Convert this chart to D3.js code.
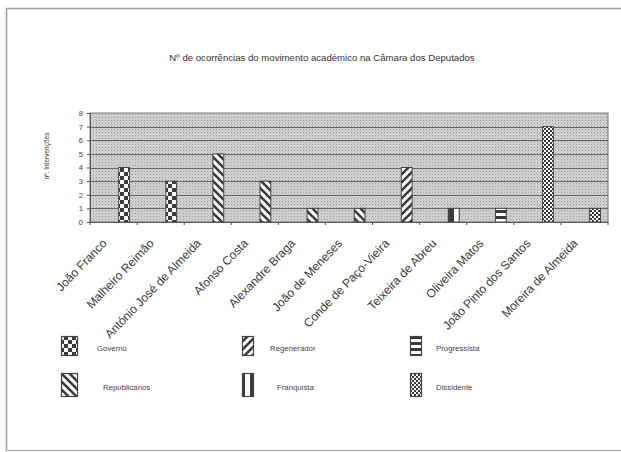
<!DOCTYPE html>
<html><head><meta charset="utf-8">
<script src="https://cdn.jsdelivr.net/npm/d3@7"></script>
<style>
html,body{margin:0;padding:0;background:#fff;}
svg{display:block;font-family:"Liberation Sans",Arial,sans-serif;}
</style></head>
<body>
<svg id="c" width="621" height="452"></svg>
<script>
const categories = ["João Franco","Malheiro Reimão","António José de Almeida","Afonso Costa","Alexandre Braga","João de Meneses","Conde de Paço-Vieira","Teixeira de Abreu","Oliveira Matos","João Pinto dos Santos","Moreira de Almeida"];
const values = [4,3,5,3,1,1,4,1,1,7,1];
const barParty = ["Governo","Governo","Republicanos","Republicanos","Republicanos","Republicanos","Regenerador","Franquista","Progressista","Dissidente","Dissidente"];
const legendRow1 = ["Governo","Regenerador","Progressista"];
const legendRow2 = ["Republicanos","Franquista","Dissidente"];
const yTicks = [0,1,2,3,4,5,6,7,8];
const title = "Nº de ocorrências do movimento académico na Câmara dos Deputados";
const yTitle = "nº. Intervenções";

const svg = d3.select("#c");
const defs = svg.append("defs");
const ink = "#3a3a3a";

// background stipple
const bg = defs.append("pattern").attr("id","p-bg").attr("width",3).attr("height",3).attr("patternUnits","userSpaceOnUse");
bg.append("rect").attr("width",3).attr("height",3).attr("fill","#d2d2d2");
bg.append("rect").attr("width",1).attr("height",1).attr("fill","#9c9c9c");
bg.append("rect").attr("x",1.5).attr("y",1.5).attr("width",1).attr("height",1).attr("fill","#b4b4b4");

function pat(id,w,h,draw){
  const p = defs.append("pattern").attr("id",id).attr("width",w).attr("height",h).attr("patternUnits","userSpaceOnUse");
  p.append("rect").attr("width",w).attr("height",h).attr("fill","#fff");
  draw(p);
}
pat("p-Governo",8,8,p=>{
  p.append("rect").attr("width",4).attr("height",4).attr("fill",ink);
  p.append("rect").attr("x",4).attr("y",4).attr("width",4).attr("height",4).attr("fill",ink);
});
pat("p-Dissidente",4,4,p=>{
  p.append("rect").attr("width",2).attr("height",2).attr("fill",ink);
  p.append("rect").attr("x",2).attr("y",2).attr("width",2).attr("height",2).attr("fill",ink);
});
pat("p-Republicanos",8,8,p=>{
  p.append("path").attr("d","M-2,-2 L10,10 M-2,6 L2,10 M6,-2 L10,2").attr("stroke",ink).attr("stroke-width",2.6);
});
pat("p-Regenerador",8,8,p=>{
  p.append("path").attr("d","M-2,10 L10,-2 M-2,2 L2,-2 M6,10 L10,6").attr("stroke",ink).attr("stroke-width",2.6);
});
pat("p-Franquista",11,4,p=>{
  p.append("rect").attr("x",0).attr("width",3).attr("height",4).attr("fill",ink);
  p.append("rect").attr("x",8).attr("width",3).attr("height",4).attr("fill",ink);
});
pat("p-Progressista",4,6,p=>{
  p.append("rect").attr("y",0).attr("width",4).attr("height",3).attr("fill",ink);
});

// frame
svg.append("path").attr("d","M6.5,450.5 L6.5,8.5 L621,8.5").attr("fill","none").attr("stroke","#9a9a9a").attr("stroke-width",1.5);
svg.append("path").attr("d","M6.5,450.5 L621,450.5").attr("fill","none").attr("stroke","#9a9a9a").attr("stroke-width",1.2);

const m = {left:90, right:608, top:113, bottom:222};
const x = d3.scaleBand().domain(categories).range([m.left,m.right]).padding(0);
const y = d3.scaleLinear().domain([0,8]).range([m.bottom,m.top]);

svg.append("rect").attr("x",m.left).attr("y",m.top).attr("width",m.right-m.left).attr("height",m.bottom-m.top)
  .attr("fill","url(#p-bg)").attr("stroke","#777").attr("stroke-width",1);

// gridlines
svg.append("g").selectAll("line").data(yTicks.slice(1,-1)).join("line")
  .attr("x1",m.left).attr("x2",m.right).attr("y1",d=>Math.round(y(d))+0.5).attr("y2",d=>Math.round(y(d))+0.5)
  .attr("stroke","#666").attr("stroke-width",1);

// bars
svg.append("g").selectAll("rect").data(categories).join("rect")
  .attr("x",(d)=>x(d)+x.bandwidth()*0.61)
  .attr("width",x.bandwidth()*0.23)
  .attr("y",(d,i)=>y(values[i]))
  .attr("height",(d,i)=>y(0)-y(values[i]))
  .attr("fill",(d,i)=>`url(#p-${barParty[i]})`)
  .attr("stroke","#444").attr("stroke-width",1);

// y axis
const ya = svg.append("g").attr("transform",`translate(${m.left},0)`)
  .call(d3.axisLeft(y).tickValues(yTicks).tickSize(3).tickPadding(4).tickFormat(d3.format("d")));
ya.select(".domain").attr("stroke","#555");
ya.selectAll(".tick line").attr("stroke","#555");
ya.selectAll("text").attr("font-size",7.5).attr("fill","#444").attr("font-family","Liberation Sans, Arial, sans-serif");

// x axis
const xa = svg.append("g").attr("transform",`translate(0,${m.bottom})`)
  .call(d3.axisBottom(x).tickSize(0).tickFormat(""));
xa.select(".domain").attr("stroke","#555");
xa.selectAll(".tick").remove();
svg.append("g").selectAll("line").data(categories).join("line")
  .attr("x1",d=>x(d)).attr("x2",d=>x(d)).attr("y1",m.bottom).attr("y2",m.bottom+3).attr("stroke","#555");
svg.append("line").attr("x1",m.right).attr("x2",m.right).attr("y1",m.bottom).attr("y2",m.bottom+3).attr("stroke","#555");

svg.append("g").selectAll("text").data(categories).join("text")
  .attr("transform",d=>`translate(${x(d)+x.bandwidth()/2-6},${m.bottom+22}) rotate(-46)`)
  .attr("text-anchor","end")
  .attr("font-size",12).attr("fill","#3a3a3a").text(d=>d);

// titles
svg.append("text").attr("x",322).attr("y",61).attr("text-anchor","middle").attr("font-size",9.6).attr("fill","#333").text(title);
svg.append("text").attr("transform","translate(49,156) rotate(-90)").attr("text-anchor","middle").attr("font-size",6.5).attr("fill","#333").text(yTitle);

// legend
const colX = [61,242,410];
const txtX = [[97,270,436],[103,277,436]];
const rowY = [[336,355],[373,396]];
const iconW = [[16,11,11],[16,11,11]];
[legendRow1,legendRow2].forEach((row,r)=>{
  row.forEach((name,c)=>{
    svg.append("rect").attr("x",colX[c]+0.5).attr("y",rowY[r][0]+0.5).attr("width",iconW[r][c]).attr("height",rowY[r][1]-rowY[r][0])
      .attr("fill",`url(#p-${name})`).attr("stroke","#444").attr("stroke-width",1.2);
    svg.append("text").attr("x",txtX[r][c]).attr("y",(rowY[r][0]+rowY[r][1])/2+5).attr("font-size",7.8).attr("fill","#444").text(name);
  });
});
</script>
</body></html>
